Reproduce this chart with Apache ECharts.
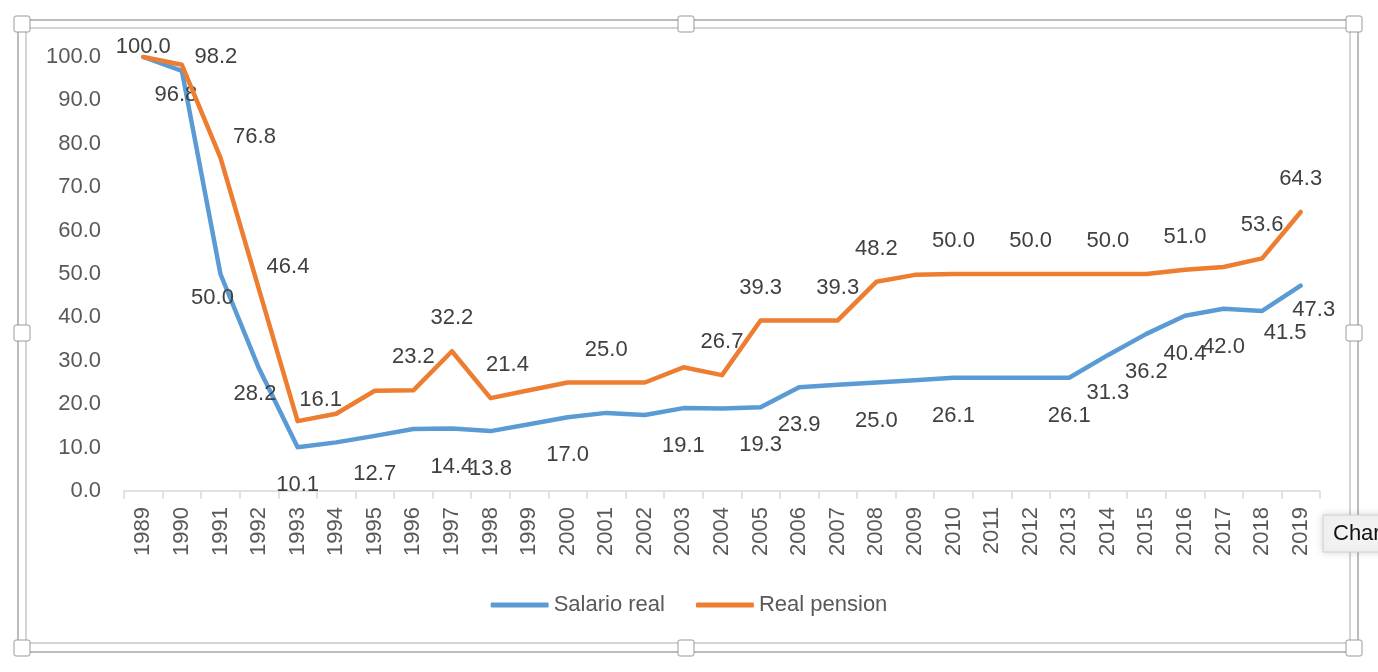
<!DOCTYPE html>
<html>
<head>
<meta charset="utf-8">
<script src="https://cdn.jsdelivr.net/npm/echarts@6/dist/echarts.min.js"></script>
<style>
  html, body { margin: 0; padding: 0; background: #fff; }
  #main { width: 1378px; height: 672px; }
</style>
</head>
<body>
<div id="main"></div>
<script>
const years = ['1989', '1990', '1991', '1992', '1993', '1994', '1995', '1996', '1997', '1998',
    '1999', '2000', '2001', '2002', '2003', '2004', '2005', '2006', '2007', '2008',
    '2009', '2010', '2011', '2012', '2013', '2014', '2015', '2016', '2017', '2018', '2019']
const salarioReal = [100.0, 96.8, 50.0, 28.2, 10.1, 11.2, 12.7, 14.3, 14.4, 13.8,
    15.4, 17.0, 18.0, 17.5, 19.1, 19.0, 19.3, 23.9, 24.5, 25.0,
    25.5, 26.1, 26.1, 26.1, 26.1, 31.3, 36.2, 40.4, 42.0, 41.5, 47.3]
const pensionReal = [100.0, 98.2, 76.8, 46.4, 16.1, 17.8, 23.1, 23.2, 32.2, 21.4,
    23.2, 25.0, 25.0, 25.0, 28.5, 26.7, 39.3, 39.3, 39.3, 48.2,
    49.8, 50.0, 50.0, 50.0, 50.0, 50.0, 50.0, 51.0, 51.6, 53.6, 64.3]
const yTicks = [0, 10, 20, 30, 40, 50, 60, 70, 80, 90, 100]

// years that carry a value label in the original
const salarioLabelYears = ['1990', '1991', '1992', '1993', '1995', '1997', '1998', '2000', '2003',
    '2005', '2006', '2008', '2010', '2013', '2014', '2015', '2016', '2017', '2018', '2019']
const pensionLabelYears = ['1989', '1990', '1991', '1992', '1993', '1996', '1997', '1998', '2001',
    '2004', '2005', '2007', '2008', '2010', '2012', '2014', '2016', '2018', '2019']

// label placement (style only)
const salarioDefaultShift = [0, 38]
const salarioShift = { '1990': [-6, 24], '1991': [-8, 24], '1992': [-4, 25], '2018': [23, 22], '2019': [13, 24] }
const pensionDefaultShift = [0, -33]
const pensionShift = { '1989': [0, -10], '1990': [34, -8], '1991': [34, -21], '1992': [29, -23],
    '1993': [23, -21], '1998': [17, -33] }

const FONT = '"Liberation Sans", Arial, sans-serif'

function buildData(values, labelYears, shifts, defShift) {
    return values.map((v, i) => {
        let y = years[i]
        if (labelYears.indexOf(y) < 0) return v
        return {
            value: v,
            label: { show: true, offset: shifts[y] || defShift }
        }
    })
}

function handle(x, y) {
    return {
        type: 'rect',
        shape: { x: x - 8, y: y - 8, width: 16, height: 16, r: 2 },
        style: { fill: '#fff', stroke: '#9a9a9a', lineWidth: 1 },
        z: 100
    }
}

let chart = echarts.init(document.getElementById('main'))
chart.setOption({
    animation: false,
    backgroundColor: '#fff',
    grid: { left: 124, right: 58, top: 57, bottom: 181, containLabel: false },
    legend: {
        top: 589,
        left: 'center',
        icon: 'roundRect',
        itemWidth: 58,
        itemHeight: 5,
        itemGap: 31,
        textStyle: { fontSize: 22, color: '#595959', fontFamily: FONT },
        data: ['Salario real', 'Real pension']
    },
    xAxis: {
        type: 'category',
        data: years,
        boundaryGap: true,
        axisLine: { lineStyle: { color: '#d9d9d9', width: 1.5 } },
        axisTick: { show: true, length: 8, lineStyle: { color: '#d9d9d9', width: 1.5 } },
        axisLabel: { rotate: 90, margin: 16, fontSize: 22, color: '#595959', fontFamily: FONT, interval: 0 },
        splitLine: { show: false }
    },
    yAxis: {
        type: 'value',
        min: yTicks[0],
        max: yTicks[yTicks.length - 1],
        interval: yTicks[1] - yTicks[0],
        axisLine: { show: false },
        axisTick: { show: false },
        splitLine: { show: false },
        axisLabel: {
            margin: 23, fontSize: 22, color: '#595959', fontFamily: FONT,
            formatter: v => v.toFixed(1)
        }
    },
    series: [
        {
            name: 'Salario real',
            type: 'line',
            data: buildData(salarioReal, salarioLabelYears, salarioShift, salarioDefaultShift),
            symbol: 'circle',
            symbolSize: 1,
            itemStyle: { color: '#5b9bd5' },
            lineStyle: { color: '#5b9bd5', width: 4.5, cap: 'round', join: 'round' },
            label: {
                show: false, position: 'inside', fontSize: 22, color: '#404040', fontFamily: FONT,
                formatter: p => p.value.toFixed(1)
            },
            emphasis: { disabled: true },
            z: 3
        },
        {
            name: 'Real pension',
            type: 'line',
            data: buildData(pensionReal, pensionLabelYears, pensionShift, pensionDefaultShift),
            symbol: 'circle',
            symbolSize: 1,
            itemStyle: { color: '#ed7d31' },
            lineStyle: { color: '#ed7d31', width: 4.5, cap: 'round', join: 'round' },
            label: {
                show: false, position: 'inside', fontSize: 22, color: '#404040', fontFamily: FONT,
                formatter: p => p.value.toFixed(1)
            },
            emphasis: { disabled: true },
            z: 4
        }
    ],
    graphic: [
        // selection frame round the chart
        { type: 'rect', shape: { x: 18, y: 20, width: 1340, height: 632 },
          style: { fill: 'none', stroke: '#a6a6a6', lineWidth: 1.5 }, z: 90 },
        { type: 'rect', shape: { x: 26, y: 28, width: 1324, height: 615 },
          style: { fill: 'none', stroke: '#c8c8c8', lineWidth: 1.5 }, z: 90 },
        handle(22, 24), handle(686, 24), handle(1354, 24),
        handle(22, 333), handle(1354, 333),
        handle(22, 648), handle(686, 648), handle(1354, 648),
        // hover tip at the right edge
        { type: 'rect', shape: { x: 1323, y: 515, width: 80, height: 37 },
          style: { fill: '#f2f2f2', stroke: '#cfcfcf', lineWidth: 1, shadowBlur: 8, shadowColor: 'rgba(0,0,0,0.15)' }, z: 110 },
        { type: 'text', x: 1333, y: 534,
          style: { text: 'Chart', fill: '#111', font: '22px ' + FONT, textVerticalAlign: 'middle' }, z: 111 }
    ]
})
</script>
</body>
</html>
